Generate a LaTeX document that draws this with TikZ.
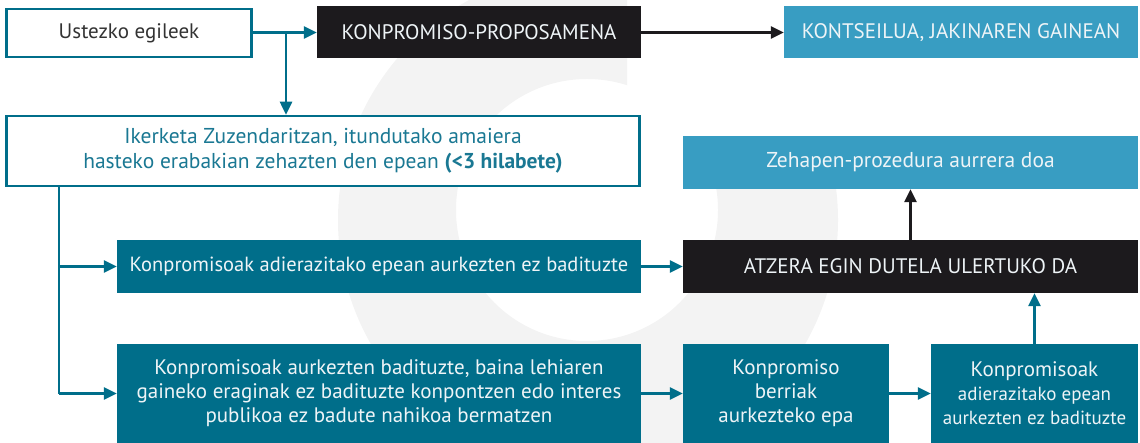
\documentclass[tikz,border=0pt]{standalone}
\usepackage{fontspec}
\setmainfont{PT Sans}
\usetikzlibrary{arrows.meta}
\definecolor{cteal}{HTML}{006E8A}
\definecolor{clight}{HTML}{389DC2}
\definecolor{cblack}{HTML}{1C1A1D}
\definecolor{cwm}{HTML}{F3F3F3}
\definecolor{ctext}{HTML}{333333}
\definecolor{cblue}{HTML}{1A7893}
\definecolor{cwhite}{HTML}{EEF4F7}
\tikzset{
  box/.style={rectangle, inner sep=0pt, align=center, font=\fontsize{21}{24}\selectfont},
  wbox/.style={box, draw=cteal, line width=2.5pt, fill=white},
  tbox/.style={box, fill=cteal, text=cwhite},
  lbox/.style={box, fill=clight, text=cwhite},
  kbox/.style={box, fill=cblack, text=cwhite},
  tarr/.style={draw=cteal, line width=2.5pt, -{Triangle[length=13pt,width=12pt]}},
  tline/.style={draw=cteal, line width=2.5pt},
  karr/.style={draw=cblack, line width=2.5pt, -{Triangle[length=13pt,width=12pt]}},
}
\begin{document}
\begin{tikzpicture}[x=1pt,y=-1pt]
\useasboundingbox (0,0) rectangle (1140,443);
% watermark
\begin{scope}
\clip (0,0) -- (627,0) -- (627,150) -- (1140,150) -- (1140,443) -- (0,443) -- cycle;
\fill[cwm, even odd rule] (588,220) circle[radius=250pt] (587,210) circle[radius=131pt];
\end{scope}
% nodes
\node[wbox, text=ctext, minimum width=245pt, minimum height=48pt] (ust) at (129,33) {Ustezko egileek};
\node[kbox, minimum width=324pt, minimum height=52pt] (kon) at (479,32.5) {KONPROMISO-PROPOSAMENA};
\node[lbox, minimum width=354pt, minimum height=52pt] (kons) at (961,32.5) {KONTSEILUA, JAKINAREN GAINEAN};
\node[wbox, text=cblue, minimum width=633pt, minimum height=70pt, font=\fontsize{21.5}{24.5}\selectfont] (ike) at (323,151) {Ikerketa Zuzendaritzan, itundutako amaiera\\hasteko erabakian zehazten den epean \textbf{(<3 hilabete)}};
\node[lbox, minimum width=455pt, minimum height=53pt, font=\fontsize{21.5}{24}\selectfont] (zeh) at (910.5,162.5) {Zehapen-prozedura aurrera doa};
\node[tbox, minimum width=524pt, minimum height=53pt, font=\fontsize{20.5}{24}\selectfont] (k3) at (379,266.5) {Konpromisoak adierazitako epean aurkezten ez badituzte};
\node[kbox, minimum width=455pt, minimum height=53pt] (atz) at (910.5,266.5) {ATZERA EGIN DUTELA ULERTUKO DA};
\node[tbox, minimum width=524pt, minimum height=99pt] (kb) at (379,393.5) {Konpromisoak aurkezten badituzte, baina lehiaren\\gaineko eraginak ez badituzte konpontzen edo interes\\publikoa ez badute nahikoa bermatzen};
\node[tbox, minimum width=206pt, minimum height=99pt] (ber) at (786,393.5) {Konpromiso\\berriak\\aurkezteko epa};
\node[tbox, minimum width=207pt, minimum height=99pt] (las) at (1034.5,393.5) {Konpromisoak\\{\fontsize{19}{24}\selectfont adierazitako epean}\\{\fontsize{19}{24}\selectfont aurkezten ez badituzte}};
% connectors
\coordinate (br) at (286,32.5);
\coordinate (vx) at (59,0);
\draw[tarr] (ust.east |- br) -- (kon.west);
\draw[tarr] (br) -- (br |- ike.north);
\draw[karr] (kon.east) -- (kons.west);
\draw[tline] (vx |- ike.south) -- (vx |- kb.west);
\draw[tarr] (vx |- k3.west) -- (k3.west);
\draw[tarr] (vx |- kb.west) -- (kb.west);
\draw[tarr] (k3.east) -- (atz.west);
\draw[tarr] (kb.east) -- (ber.west);
\draw[tarr] (ber.east) -- (las.west);
\draw[tarr] (las.north) -- (las.north |- atz.south);
\draw[karr] (atz.north) -- (zeh.south);
\end{tikzpicture}
\end{document}
